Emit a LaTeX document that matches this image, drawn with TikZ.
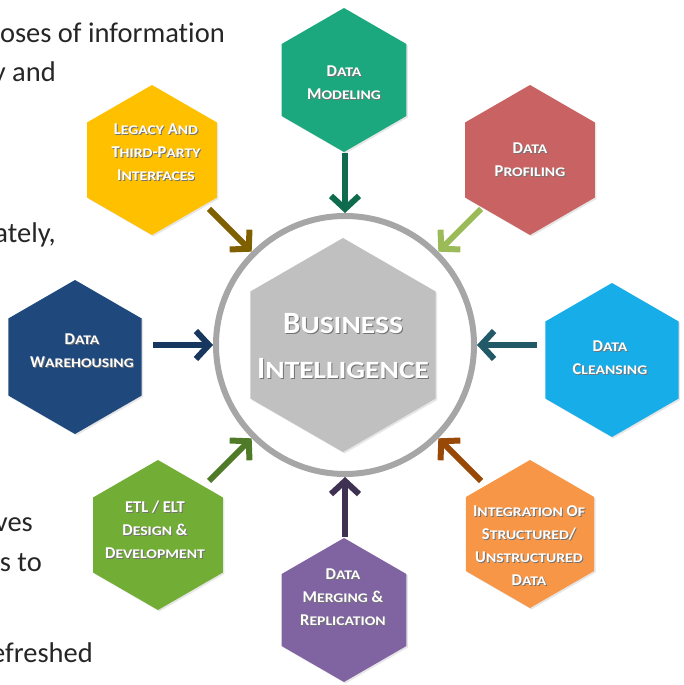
\documentclass[tikz,border=0pt]{standalone}
\usepackage{fontspec}
\setmainfont{Carlito}[Ligatures=NoCommon]
\usepackage{graphicx}
\usepackage{xcolor}
\usetikzlibrary{arrows.meta}
\usetikzlibrary{shapes.geometric}
\usetikzlibrary{shadows}
\definecolor{cmod}{HTML}{1BA87E}
\definecolor{cprof}{HTML}{C96262}
\definecolor{ccln}{HTML}{17ADE8}
\definecolor{cintg}{HTML}{F79646}
\definecolor{cmrg}{HTML}{8064A2}
\definecolor{cetl}{HTML}{72AE35}
\definecolor{cwh}{HTML}{1F497D}
\definecolor{cleg}{HTML}{FFC000}
\definecolor{chex}{HTML}{C0C0C0}
\definecolor{ccirc}{HTML}{A6A6A6}
\definecolor{amod}{HTML}{0E6B4D}
\definecolor{aprof}{HTML}{9BBB59}
\definecolor{acln}{HTML}{215967}
\definecolor{aintg}{HTML}{984807}
\definecolor{amrg}{HTML}{3F3151}
\definecolor{aetl}{HTML}{4F7A28}
\definecolor{awh}{HTML}{17375E}
\definecolor{aleg}{HTML}{7F6000}
\definecolor{paratext}{HTML}{262626}
\newcommand\sm[1]{\scalebox{0.95}[0.8]{#1}}
\newcommand\shd[1]{\makebox[0pt][l]{\kern1pt\raisebox{-1pt}{\color{black!55}#1}}#1}
\tikzset{x=1pt,y=1pt,
 hexa/.style={regular polygon,regular polygon sides=6,shape border rotate=30,
  inner sep=0pt,draw=none,drop shadow={shadow xshift=1.5pt,shadow yshift=-1.5pt,opacity=0.2}},
 lbl/.style={text=white,align=center,inner sep=0pt,
  font=\bfseries\fontsize{16.5}{23}\selectfont},
 arr/.style={line width=6pt,-{Straight Barb[length=13pt,width=28pt]},shorten >=0pt},
 para/.style={anchor=base east,inner sep=0pt,text=paratext,
  font=\fontsize{28.5}{34}\selectfont},
 }

\begin{document}
\begin{tikzpicture}
        \useasboundingbox (0,0) rectangle (683,685);
        \node[para] (p1) at (225,642) {oses of information};
        \node[para] (p2) at (56,603) {y and};
        \node[para] (p3) at (56,442) {ately,};
        \node[para] (p4) at (33,153) {ves};
        \node[para] (p5) at (42,113) {s to};
        \node[para] (p6) at (93,23) {efreshed};
        \node[circle,draw=ccirc,line width=6pt,minimum size=258pt] (bi) at (345,340) {};
        \node[hexa,fill=chex,minimum size=214pt] (bihex) at (343,340) {};
        \node[lbl,font=\bfseries\fontsize{31}{45}\selectfont] (bi-t) at (343,338)
            {\shd{B\sm{USINESS}}\\\shd{I\sm{NTELLIGENCE}}};
        \node[hexa,fill=cmod,minimum size=144pt] (mod) at (344,605) {};
        \node[hexa,fill=cprof,minimum size=150pt] (prof) at (530,525) {};
        \node[hexa,fill=ccln,minimum size=154pt] (cln) at (612,325) {};
        \node[hexa,fill=cintg,minimum size=148pt] (intg) at (530,151) {};
        \node[hexa,fill=cmrg,minimum size=144pt] (mrg) at (344,75) {};
        \node[hexa,fill=cetl,minimum size=150pt] (etl) at (158,150) {};
        \node[hexa,fill=cwh,minimum size=154pt] (wh) at (75,328) {};
        \node[hexa,fill=cleg,minimum size=150pt] (leg) at (152,525) {};
        \node[lbl] (mod-t) at (344,602) {\shd{D\sm{ATA}}\\\shd{M\sm{ODELING}}};
        \node[lbl] (prof-t) at (530,525) {\shd{D\sm{ATA}}\\\shd{P\sm{ROFILING}}};
        \node[lbl] (cln-t) at (610,327) {\shd{D\sm{ATA}}\\\shd{C\sm{LEANSING}}};
        \node[lbl] (intg-t) at (529,139)
            {\shd{I\sm{NTEGRATION} O\sm{F}}\\\shd{S\sm{TRUCTURED}/}\\\shd{U\sm{NSTRUCTURED}}\\\shd{D\sm{ATA}}};
        \node[lbl] (mrg-t) at (343,87) {\shd{D\sm{ATA}}\\\shd{M\sm{ERGING} \&}\\\shd{R\sm{EPLICATION}}};
        \node[lbl] (etl-t) at (155,155) {\shd{ETL / ELT}\\\shd{D\sm{ESIGN} \&}\\\shd{D\sm{EVELOPMENT}}};
        \node[lbl] (wh-t) at (82,334) {\shd{D\sm{ATA}}\\\shd{W\sm{AREHOUSING}}};
        \node[lbl] (leg-t) at (156,532)
            {\shd{L\sm{EGACY} A\sm{ND}}\\\shd{T\sm{HIRD}-P\sm{ARTY}}\\\shd{I\sm{NTERFACES}}};
        \coordinate (mod-a) at (345,532);
        \coordinate (prof-a) at (481,476);
        \coordinate (cln-a) at (537,340);
        \coordinate (intg-a) at (481,204);
        \coordinate (mrg-a) at (345,148);
        \coordinate (etl-a) at (209,204);
        \coordinate (wh-a) at (153,340);
        \coordinate (leg-a) at (209,476);
        \draw[arr,amod] (mod-a) -- (bi);
        \draw[arr,aprof] (prof-a) -- (bi);
        \draw[arr,acln] (cln-a) -- (bi);
        \draw[arr,aintg] (intg-a) -- (bi);
        \draw[arr,amrg] (mrg-a) -- (bi);
        \draw[arr,aetl] (etl-a) -- (bi);
        \draw[arr,awh] (wh-a) -- (bi);
        \draw[arr,aleg] (leg-a) -- (bi);
    \end{tikzpicture}
\end{document}
